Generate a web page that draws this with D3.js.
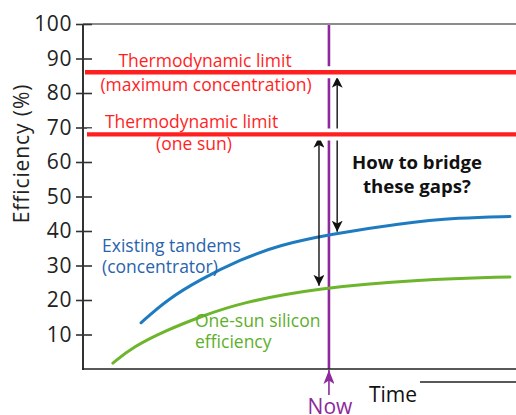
<!DOCTYPE html>
<html>
<head>
<meta charset="utf-8">
<script src="https://cdn.jsdelivr.net/npm/d3@7"></script>
<style>
  html, body { margin: 0; padding: 0; background: #fff; }
  svg { display: block; font-family: "Open Sans", "Noto Sans", sans-serif; }
</style>
</head>
<body>
<svg id="chart" width="516" height="415"></svg>
<script>
// Efficiency over (arbitrary) time, in percent
const yTicks = [10, 20, 30, 40, 50, 60, 70, 80, 90, 100];

// Thermodynamic limits (%)
const limitMaxConc = 86;
const limitOneSun = 68;

// Existing tandem cells under concentration
const tandemTime = [13.4, 19.4, 27.0, 36.3, 45.5, 57.0, 73.2, 87.1, 98.6];
const tandemEff  = [13.4, 20.1, 25.9, 31.7, 36.0, 39.0, 42.2, 43.9, 44.2];

// One-sun silicon efficiency
const siliconTime = [6.9, 11.5, 19.4, 27.0, 36.3, 54.3, 77.8, 98.6];
const siliconEff  = [1.7, 6.4, 11.3, 15.1, 19.2, 23.5, 25.9, 26.7];

// Present moment on the time axis
const nowTime = 56.8;

// Gap arrows: [time, from, to]
const gapOneSun = [54.5, 24.1, 67.3];
const gapMaxConc = [58.7, 39.8, 84.7];

const svg = d3.select("#chart");
const x = d3.scaleLinear().domain([0, 100]).range([83, 516]);
const y = d3.scaleLinear().domain([0, 100]).range([369, 24]);

const purple = "#8c2a9c";
const red = "#ff1f1f";

// arrowheads
const defs = svg.append("defs");
function marker(id, color, len, wid) {
  defs.append("marker")
    .attr("id", id)
    .attr("viewBox", `0 0 ${len} ${wid}`)
    .attr("refX", len).attr("refY", wid / 2)
    .attr("markerUnits", "userSpaceOnUse")
    .attr("markerWidth", len).attr("markerHeight", wid)
    .attr("orient", "auto-start-reverse")
    .append("path")
    .attr("d", `M0,0 L${len},${wid / 2} L0,${wid} L${len * 0.25},${wid / 2} Z`)
    .attr("fill", color);
}
marker("blk", "#111", 11, 11);
marker("pur", purple, 14, 11);
defs.append("filter").attr("id", "glow")
  .attr("x", "-5%").attr("y", "-200%").attr("width", "110%").attr("height", "500%")
  .append("feGaussianBlur").attr("stdDeviation", 1.3);

// frame: top rule
svg.append("line")
  .attr("x1", x(0)).attr("x2", x(100))
  .attr("y1", y(100)).attr("y2", y(100))
  .attr("stroke", "#666").attr("stroke-width", 1.6);

// y axis
const yAxis = d3.axisLeft(y).tickValues(yTicks).tickSize(0).tickPadding(11);
const gy = svg.append("g").attr("transform", `translate(${x(0)},0)`).call(yAxis);
gy.select(".domain").remove();
gy.selectAll(".tick text")
  .attr("font-size", 21).attr("fill", "#222")
  .attr("letter-spacing", 0.6)
  .attr("font-family", "'Open Sans', sans-serif");
gy.selectAll(".tick").append("line")
  .attr("x1", -7).attr("x2", 9)
  .attr("stroke", "#333").attr("stroke-width", 1.6);
svg.append("line")
  .attr("x1", x(0)).attr("x2", x(0))
  .attr("y1", y(100)).attr("y2", y(0) + 1)
  .attr("stroke", "#333").attr("stroke-width", 2);

svg.append("text")
  .attr("transform", `translate(29,${(77 + 230) / 2}) rotate(-90)`)
  .attr("text-anchor", "middle")
  .attr("font-size", 21).attr("letter-spacing", 0.9).attr("fill", "#222")
  .text("Efficiency (%)");

// now line
svg.append("line")
  .attr("x1", x(nowTime)).attr("x2", x(nowTime))
  .attr("y1", y(100) + 1).attr("y2", y(0))
  .attr("stroke", purple).attr("stroke-width", 2.6);

// curves
const line = d3.line().x(d => x(d[0])).y(d => y(d[1])).curve(d3.curveBasis);
svg.append("path")
  .datum(tandemTime.map((t, i) => [t, tandemEff[i]]))
  .attr("d", line).attr("fill", "none")
  .attr("stroke", "#1e7bc0").attr("stroke-width", 3).attr("stroke-linecap", "round");
svg.append("path")
  .datum(siliconTime.map((t, i) => [t, siliconEff[i]]))
  .attr("d", line).attr("fill", "none")
  .attr("stroke", "#6cb52c").attr("stroke-width", 3).attr("stroke-linecap", "round");

// gap arrows (double-headed)
[gapOneSun, gapMaxConc].forEach(g => {
  svg.append("line")
    .attr("x1", x(g[0])).attr("x2", x(g[0]))
    .attr("y1", y(g[1])).attr("y2", y(g[2]))
    .attr("stroke", "#111").attr("stroke-width", 1.4)
    .attr("marker-start", "url(#blk)").attr("marker-end", "url(#blk)");
});

// thermodynamic limit lines, with white clearance and soft glow
[[limitMaxConc, 85], [limitOneSun, 87]].forEach(([v, x0]) => {
  svg.append("line").attr("x1", x0).attr("x2", 516)
    .attr("y1", y(v)).attr("y2", y(v))
    .attr("stroke", "#fff").attr("stroke-width", 12);
  svg.append("line").attr("x1", x0).attr("x2", 516)
    .attr("y1", y(v)).attr("y2", y(v))
    .attr("stroke", "#ff7a7a").attr("stroke-width", 8).attr("filter", "url(#glow)");
  svg.append("line").attr("x1", x0).attr("x2", 516)
    .attr("y1", y(v)).attr("y2", y(v))
    .attr("stroke", red).attr("stroke-width", 4.4);
});

// x axis
svg.append("line")
  .attr("x1", x(0) - 1).attr("x2", x(100))
  .attr("y1", y(0)).attr("y2", y(0))
  .attr("stroke", "#222").attr("stroke-width", 1.6);
svg.append("line")
  .attr("x1", 420).attr("x2", 516)
  .attr("y1", 382).attr("y2", 382)
  .attr("stroke", "#222").attr("stroke-width", 1.5);
svg.append("text")
  .attr("x", 393).attr("y", 402).attr("text-anchor", "middle")
  .attr("font-size", 21).attr("fill", "#111").text("Time");

// "Now" marker
svg.append("line")
  .attr("x1", x(nowTime)).attr("x2", x(nowTime))
  .attr("y1", 395).attr("y2", y(0) + 1)
  .attr("stroke", purple).attr("stroke-width", 1.6)
  .attr("marker-end", "url(#pur)");
svg.append("text")
  .attr("x", x(nowTime) + 1).attr("y", 414).attr("text-anchor", "middle")
  .attr("font-size", 21).attr("fill", purple).text("Now");

// annotations
function label(lines, xPos, y0, dy, opts) {
  const t = svg.append("text")
    .attr("font-size", opts.size).attr("fill", opts.color)
    .attr("font-weight", opts.weight || "normal")
    .attr("text-anchor", opts.anchor || "middle");
  lines.forEach((s, i) => {
    t.append("tspan").attr("x", Array.isArray(xPos) ? xPos[i] : xPos)
      .attr("y", y0 + i * dy).text(s);
  });
}
label(["Thermodynamic limit", "(maximum concentration)"], [205, 206], 67, 24,
  { size: 17.5, color: red });
label(["Thermodynamic limit", "(one sun)"], [191.5, 194], 128, 22,
  { size: 17.5, color: red });
label(["How to bridge", "these gaps?"], 417, 169, 24,
  { size: 18.6, color: "#111", weight: "bold" });
label(["Existing tandems", "(concentrator)"], 102, 252, 21,
  { size: 17.5, color: "#2a63ad", anchor: "start" });
label(["One-sun silicon", "efficiency"], 195, 327, 21,
  { size: 17.5, color: "#5eaf2a", anchor: "start" });
</script>
</body>
</html>
